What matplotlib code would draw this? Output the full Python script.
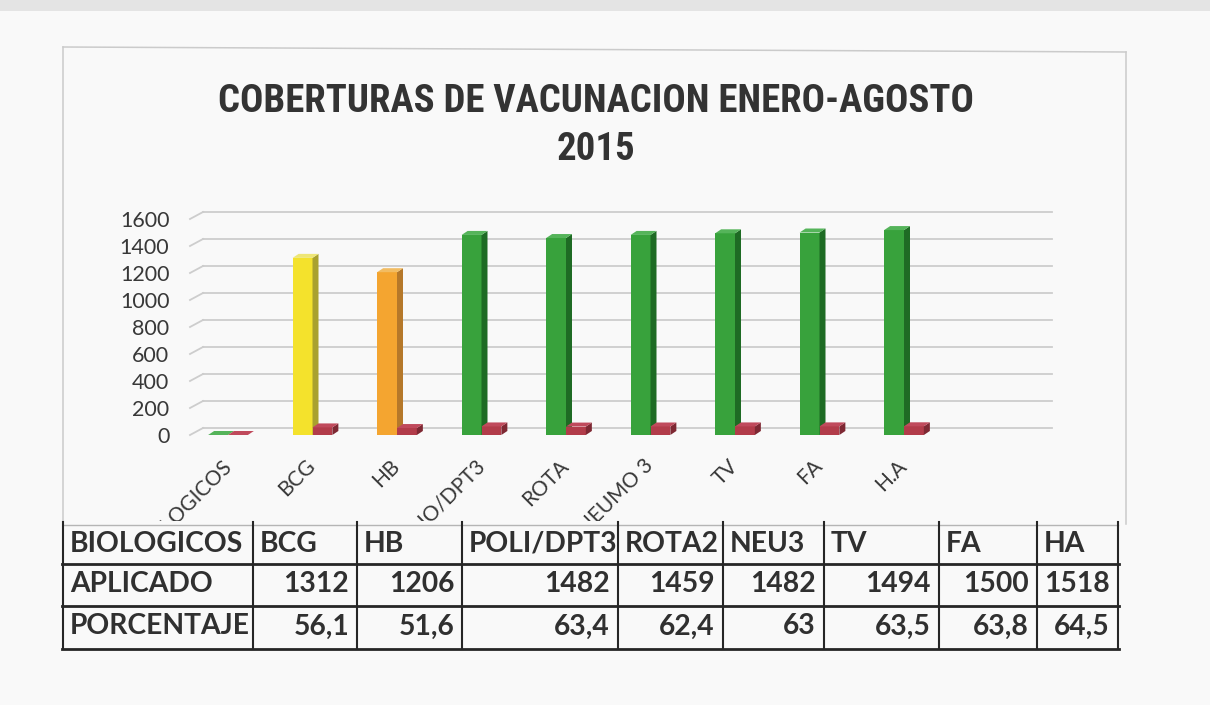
import matplotlib
matplotlib.use('Agg')
import matplotlib.pyplot as plt
from matplotlib.patches import Polygon, Rectangle
from matplotlib.lines import Line2D
from matplotlib.transforms import Bbox, TransformedBbox
from matplotlib import font_manager as fm

# ---------------- data ----------------
categories = ['BIOLOGICOS', 'BCG', 'HB', 'POLIO/DPT3', 'ROTA', 'NEUMO 3', 'TV', 'FA', 'H.A']
aplicado_chart = [0, 1312, 1206, 1482, 1459, 1482, 1494, 1500, 1518]
porcentaje_chart = [0, 56.1, 51.6, 63.4, 62.4, 63, 63.5, 63.8, 64.5]
y_ticks = [0, 200, 400, 600, 800, 1000, 1200, 1400, 1600]

table_row_labels = ['BIOLOGICOS', 'APLICADO', 'PORCENTAJE']
table_cols = ['BCG', 'HB', 'POLI/DPT3', 'ROTA2', 'NEU3', 'TV', 'FA', 'HA']
table_aplicado = [1312, 1206, 1482, 1459, 1482, 1494, 1500, 1518]
table_porcentaje = [56.1, 51.6, 63.4, 62.4, 63, 63.5, 63.8, 64.5]

title_lines = ['COBERTURAS DE VACUNACION ENERO-AGOSTO', '2015']

# ---------------- styles ----------------
AVAIL = {f.name for f in fm.fontManager.ttflist}


def pick(*names):
    for n in names:
        if n in AVAIL:
            return n
    return 'DejaVu Sans'

FONT = pick('Lato', 'Open Sans', 'Liberation Sans', 'DejaVu Sans')
TFONT = pick('Roboto Condensed', 'Liberation Sans Narrow', 'Roboto', 'Lato', 'DejaVu Sans')
TXT = '#303030'

pal = {
    'yellow': ('#F4E22C', '#A9A12E', '#EEE676'),
    'orange': ('#F4A530', '#B5782A', '#F2BC62'),
    'green': ('#38A23C', '#1E6B24', '#55B45A'),
    'red': ('#B23C4A', '#7E2833', '#C04A5C'),
}
cat_colors = ['green', 'yellow', 'orange', 'green', 'green', 'green', 'green', 'green', 'green']

W, H = 1210, 705
fx = lambda x: x / W
fy = lambda y: 1 - y / H

fig = plt.figure(figsize=(W / 100, H / 100), dpi=100, facecolor='#f9f9f9')

# photo-like top band and chart frame
fig.add_artist(Rectangle((0, fy(11)), 1, 11 / H, transform=fig.transFigure,
                         color='#e4e4e4', lw=0))
for (x0, y0, x1, y1) in [(63, 47, 63, 524), (63, 47, 1126, 52), (1126, 52, 1126, 524)]:
    fig.add_artist(Line2D([fx(x0), fx(x1)], [fy(y0), fy(y1)], transform=fig.transFigure,
                          color='#cbcbcb', lw=1.1))

# ---------------- chart axes ----------------
AX_L, AX_R, AX_B, AX_T = 186, 1052, 435, 219
C0, PPX = 228, 84.5
ax = fig.add_axes([fx(AX_L), fy(AX_B), (AX_R - AX_L) / W, (AX_B - AX_T) / H])
ax.set_xlim((AX_L - C0) / PPX, (AX_R - C0) / PPX)
ax.set_ylim(0, 1600)
ax.patch.set_visible(False)
for s in ax.spines.values():
    s.set_visible(False)

PPY = (AX_B - AX_T) / 1600.0
depth_dx, depth_dy = 6 / PPX, 4 / PPY
back_dy = 7 / PPY
gx_front, gx_back = (190 - C0) / PPX, (203 - C0) / PPX
gx_end = (AX_R - C0) / PPX

# back-wall gridlines with side stubs
for v in y_ticks:
    ax.plot([gx_back, gx_end], [v + back_dy, v + back_dy], color='#cdcdcd', lw=1.3,
            clip_on=False, zorder=1)
    ax.plot([gx_front, gx_back], [v, v + back_dy], color='#cdcdcd', lw=1.3,
            clip_on=False, zorder=1)

bw = 0.235
idx = list(range(len(categories)))


def faces(bars, sides, tops, z):
    for rect, sc, tc in zip(bars, sides, tops):
        x0, w, h = rect.get_x(), rect.get_width(), rect.get_height()
        x1 = x0 + w
        side = Polygon([(x1, 0), (x1 + depth_dx, depth_dy), (x1 + depth_dx, h + depth_dy), (x1, h)],
                       closed=True, facecolor=sc, edgecolor='none', zorder=z, clip_on=False)
        top = Polygon([(x0, h), (x0 + depth_dx, h + depth_dy), (x1 + depth_dx, h + depth_dy), (x1, h)],
                      closed=True, facecolor=tc, edgecolor='none', zorder=z, clip_on=False)
        ax.add_patch(side)
        ax.add_patch(top)


b1 = ax.bar([i - bw / 2 for i in idx], aplicado_chart, width=bw,
            color=[pal[c][0] for c in cat_colors], zorder=3, clip_on=False)
faces(b1, [pal[c][1] for c in cat_colors], [pal[c][2] for c in cat_colors], 3)
b2 = ax.bar([i + bw / 2 for i in idx], porcentaje_chart, width=bw,
            color=pal['red'][0], zorder=4, clip_on=False)
faces(b2, [pal['red'][1]] * len(idx), [pal['red'][2]] * len(idx), 4)

ax.set_yticks(y_ticks)
ax.set_yticklabels([str(v) for v in y_ticks], fontsize=15.5, color='#383838', family=FONT)
ax.tick_params(axis='y', length=0, pad=12)
ax.set_xticks(idx)
ax.set_xticklabels(categories, rotation=45, ha='right', va='center', rotation_mode='anchor',
                   fontsize=15, color='#383838', family=FONT)
ax.tick_params(axis='x', length=0, pad=20)
clipbox = TransformedBbox(Bbox([[0, fy(521)], [1, 1]]), fig.transFigure)
for lbl in ax.get_xticklabels():
    lbl.set_clip_on(True)
    lbl.set_clip_box(clipbox)

renderer = fig.canvas.get_renderer()


def fit(t, target):
    bb = t.get_window_extent(renderer=renderer)
    t.set_fontsize(t.get_fontsize() * target / bb.width)

# ---------------- title ----------------
t1 = fig.text(fx(596), fy(101), title_lines[0], ha='center', va='center', fontsize=28,
              fontweight='bold', family=TFONT, color='#333333')
fit(t1, 756)
fig.text(fx(596), fy(150), title_lines[1], ha='center', va='center', fontsize=t1.get_fontsize(),
         fontweight='bold', family=TFONT, color='#333333')

# ---------------- table ----------------
col_edges = [63, 253, 357, 462, 618, 723, 824, 939, 1037, 1118]
row_edges = [525, 564, 606, 649]
LINE = '#262626'
fig.add_artist(Line2D([fx(col_edges[0]), fx(col_edges[-1])], [fy(row_edges[0])] * 2,
                      transform=fig.transFigure, color='#b5b5b5', lw=1.0))
for r in row_edges[1:]:
    fig.add_artist(Line2D([fx(col_edges[0] - 1), fx(col_edges[-1] + 1)], [fy(r)] * 2,
                          transform=fig.transFigure, color=LINE, lw=2.0))
for c in col_edges:
    fig.add_artist(Line2D([fx(c)] * 2, [fy(row_edges[0] - 3), fy(row_edges[-1])],
                          transform=fig.transFigure, color=LINE, lw=1.5))


def fmt(v):
    return ('%g' % v).replace('.', ',')

rows = [
    [table_row_labels[0]] + table_cols,
    [table_row_labels[1]] + [fmt(v) for v in table_aplicado],
    [table_row_labels[2]] + [fmt(v) for v in table_porcentaje],
]
probe = fig.text(0, 0, table_row_labels[0], fontsize=18, fontweight='bold', family=FONT)
fit(probe, 173)
tsize = probe.get_fontsize()
probe.remove()
for ri, row in enumerate(rows):
    yc = (row_edges[ri] + row_edges[ri + 1]) / 2 - 1
    for ci, txt in enumerate(row):
        if ri == 0 or ci == 0:
            x, ha = col_edges[ci] + 7, 'left'
        else:
            x, ha = col_edges[ci + 1] - 8, 'right'
        fig.text(fx(x), fy(yc), txt, ha=ha, va='center', fontsize=tsize,
                 fontweight='bold', family=FONT, color=TXT)

fig.savefig('out.png', dpi=100, facecolor=fig.get_facecolor())
